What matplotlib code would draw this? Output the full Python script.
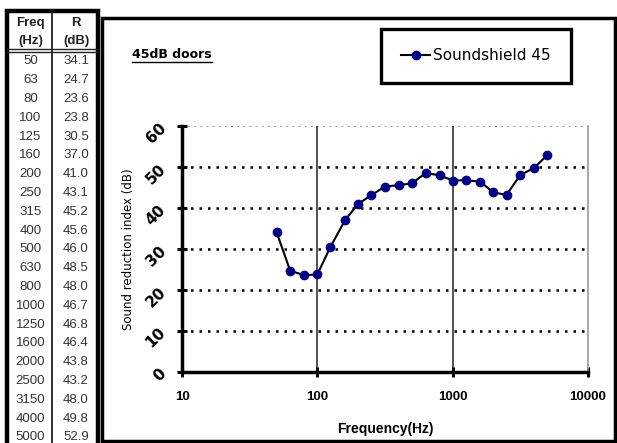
import matplotlib
matplotlib.use("Agg")
import matplotlib.pyplot as plt
from matplotlib.lines import Line2D
from matplotlib.patches import Rectangle
from matplotlib.ticker import FixedLocator, NullLocator, FixedFormatter

# ---- data ----
freq = [50, 63, 80, 100, 125, 160, 200, 250, 315, 400, 500, 630, 800,
        1000, 1250, 1600, 2000, 2500, 3150, 4000, 5000]
r_db = [34.1, 24.7, 23.6, 23.8, 30.5, 37.0, 41.0, 43.1, 45.2, 45.6, 46.0,
        48.5, 48.0, 46.7, 46.8, 46.4, 43.8, 43.2, 48.0, 49.8, 52.9]
series_name = "Soundshield 45"
title_text = "45dB doors"
x_ticks = [10, 100, 1000, 10000]
x_ticklabels = ["10", "100", "1000", "10000"]
y_ticks = [0, 10, 20, 30, 40, 50, 60]
y_ticklabels = ["0", "10", "20", "30", "40", "50", "60"]
table_head = [("Freq", "(Hz)"), ("R", "(dB)")]

W, H = 617, 443
fig = plt.figure(figsize=(W / 100, H / 100), dpi=100)


def fx(x):
    return x / W


def fy(y):
    return 1 - y / H


# ---- chart axes ----
L, R_, T, B = 182, 588, 126, 372
ax = fig.add_axes([fx(L), fy(B), fx(R_) - fx(L), fy(T) - fy(B)])
ax.set_xscale("log")
ax.set_xlim(10, 10000)
ax.set_ylim(0, 60)

# grid lines
for yv in y_ticks[1:-1]:
    ax.axhline(yv, color="black", lw=1.8, ls=(0, (1, 2.4)), zorder=1)
ax.axhline(y_ticks[-1], color="#888888", lw=1.3, ls=(0, (1, 2.4)), zorder=1)
for xv in x_ticks[1:-1]:
    ax.axvline(xv, color="#333333", lw=1.2, zorder=1)

ax.plot(freq, r_db, color="black", lw=1.5, marker="o", markersize=6,
        markerfacecolor="#000080", markeredgecolor="#000080", zorder=3,
        label=series_name)

ax.spines["top"].set_visible(False)
ax.spines["right"].set_color("#999999")
ax.spines["right"].set_linewidth(1.2)
ax.spines["left"].set_linewidth(2.5)
ax.spines["bottom"].set_linewidth(2.5)

ax.xaxis.set_major_locator(FixedLocator(x_ticks))
ax.xaxis.set_major_formatter(FixedFormatter(x_ticklabels))
ax.xaxis.set_minor_locator(NullLocator())
ax.yaxis.set_major_locator(FixedLocator(y_ticks))
ax.yaxis.set_major_formatter(FixedFormatter(y_ticklabels))
ax.tick_params(axis="both", which="major", direction="inout", length=7,
               width=2.2, color="black")
ax.tick_params(axis="x", pad=10, labelsize=9.5)
ax.tick_params(axis="y", pad=6, labelsize=11)
for lab in ax.get_xticklabels():
    lab.set_fontweight("bold")
    lab.set_family("Liberation Sans")
for lab in ax.get_yticklabels():
    lab.set_fontweight("bold")
    lab.set_rotation(45)
    lab.set_family("DejaVu Sans")

ax.set_xlabel("Frequency(Hz)", fontsize=10, fontweight="bold",
              family="Liberation Sans", labelpad=14)
ax.set_ylabel("Sound reduction index (dB)", fontsize=8.5,
              family="DejaVu Sans", labelpad=6)

# title text (underlined)
t = fig.text(fx(132), fy(55), title_text, fontsize=9, fontweight="bold",
             family="DejaVu Sans", ha="left", va="center")
fig.canvas.draw()
bb = t.get_window_extent()
fig.add_artist(Line2D([bb.x0 / W, bb.x1 / W], [fy(62), fy(62)],
                      transform=fig.transFigure, color="black", lw=1.0))

# legend
leg = ax.legend(loc="center", bbox_to_anchor=(fx(476), fy(56)),
                bbox_transform=fig.transFigure, frameon=True, fancybox=False,
                framealpha=1,
                prop={"family": "DejaVu Sans", "size": 11},
                handlelength=1.9, handletextpad=0.2, borderpad=1.3,
                borderaxespad=0)
leg.get_frame().set_edgecolor("black")
leg.get_frame().set_linewidth(2.4)

# chart frame
fig.add_artist(Rectangle((fx(102), fy(441)), fx(615) - fx(102),
                         fy(18) - fy(441), transform=fig.transFigure,
                         fill=False, edgecolor="black", lw=2.5))

# ---- table ----
tl, tr, tt, tb = 7, 98, 11, 445
colx = 52
fig.add_artist(Rectangle((fx(tl), fy(tb)), fx(tr) - fx(tl), fy(tt) - fy(tb),
                         transform=fig.transFigure, fill=False,
                         edgecolor="black", lw=3.2))
fig.add_artist(Line2D([fx(colx), fx(colx)], [fy(tt), fy(tb)],
                      transform=fig.transFigure, color="#222222", lw=1.3))
for yl in (48.5, 51.5):
    fig.add_artist(Line2D([fx(tl), fx(tr)], [fy(yl), fy(yl)],
                          transform=fig.transFigure, color="#222222", lw=1.0))

c1 = (tl + colx) / 2 + 1
c2 = (colx + tr) / 2 + 1
for cx, (h1, h2) in zip((c1, c2), table_head):
    fig.text(fx(cx), fy(23), h1, ha="center", va="center", fontsize=9.5,
             fontweight="bold", family="Liberation Sans", color="#222222")
    fig.text(fx(cx), fy(41), h2, ha="center", va="center", fontsize=9.5,
             fontweight="bold", family="Liberation Sans", color="#222222")

row0, dy = 61.5, 18.8
for i, (f, r) in enumerate(zip(freq, r_db)):
    yy = row0 + i * dy
    fig.text(fx(c1), fy(yy), f"{f}", ha="center", va="center", fontsize=9.5,
             family="Liberation Sans", color="#333333")
    fig.text(fx(c2), fy(yy), f"{r:.1f}", ha="center", va="center",
             fontsize=9.5, family="Liberation Sans", color="#333333")

fig.savefig("out.png", dpi=100)
